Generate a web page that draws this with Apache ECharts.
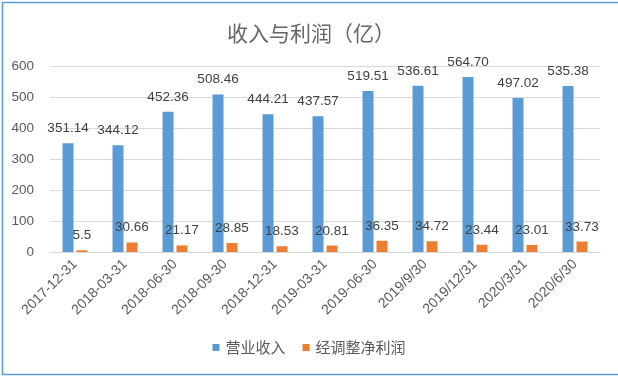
<!DOCTYPE html>
<html>
<head>
<meta charset="utf-8">
<script src="https://cdn.jsdelivr.net/npm/echarts@6/dist/echarts.min.js"></script>
<style>
  html, body { margin: 0; padding: 0; background: #fff; }
  #main { width: 618px; height: 376px; }
</style>
</head>
<body>
<div id="main"></div>
<script>
// 数据
const categories = ['2017-12-31', '2018-03-31', '2018-06-30', '2018-09-30', '2018-12-31', '2019-03-31',
  '2019-06-30', '2019/9/30', '2019/12/31', '2020/3/31', '2020/6/30'];
const revenue = [351.14, 344.12, 452.36, 508.46, 444.21, 437.57, 519.51, 536.61, 564.70, 497.02, 535.38];
const adjProfit = [5.5, 30.66, 21.17, 28.85, 18.53, 20.81, 36.35, 34.72, 23.44, 23.01, 33.73];
const yTicks = [0, 100, 200, 300, 400, 500, 600];

const font = "'Liberation Sans', 'Noto Sans CJK SC', sans-serif";
const cjkFont = "'Noto Sans CJK SC', sans-serif";

let chart = echarts.init(document.getElementById('main'));

chart.setOption({
  animation: false,
  backgroundColor: '#fff',
  title: {
    text: '收入与利润（亿）',
    left: 306,
    textAlign: 'center',
    top: 18,
    textStyle: {
      fontFamily: cjkFont,
      fontSize: 21,
      fontWeight: 'normal',
      color: '#666'
    }
  },
  legend: {
    data: ['营业收入', '经调整净利润'],
    bottom: 16,
    left: 'center',
    itemWidth: 7,
    itemHeight: 7,
    itemGap: 17,
    icon: 'rect',
    textStyle: {
      fontFamily: cjkFont,
      fontSize: 15,
      color: '#595959',
      padding: [0, 0, 0, 1]
    }
  },
  grid: {
    left: 50,
    right: 18,
    top: 66,
    bottom: 124
  },
  xAxis: {
    type: 'category',
    data: categories,
    axisLine: { lineStyle: { color: '#d9d9d9' } },
    axisTick: { show: false },
    axisLabel: {
      rotate: 45,
      interval: 0,
      margin: 10,
      fontFamily: font,
      fontSize: 14,
      color: '#595959'
    }
  },
  yAxis: {
    type: 'value',
    min: yTicks[0],
    max: yTicks[yTicks.length - 1],
    interval: 100,
    axisLine: { show: false },
    axisTick: { show: false },
    splitLine: { lineStyle: { color: '#d9d9d9' } },
    axisLabel: {
      margin: 16,
      fontFamily: font,
      fontSize: 13.5,
      color: '#595959'
    }
  },
  series: [
    {
      name: '营业收入',
      type: 'bar',
      data: revenue,
      barWidth: 11,
      barGap: '27%',
      itemStyle: { color: '#5b9bd5' },
      label: {
        show: true,
        position: 'top',
        distance: 8,
        fontFamily: font,
        fontSize: 13.5,
        color: '#404040',
        formatter: (p) => p.value.toFixed(2)
      }
    },
    {
      name: '经调整净利润',
      type: 'bar',
      data: adjProfit,
      barWidth: 11,
      itemStyle: { color: '#ed7d31' },
      label: {
        show: true,
        position: 'top',
        distance: 8,
        fontFamily: font,
        fontSize: 13.5,
        color: '#404040',
        formatter: (p) => String(p.value)
      }
    }
  ],
  graphic: [
    // 图表外框（左、上、下）
    {
      type: 'polyline',
      shape: { points: [[620, 2.5], [2.5, 2.5], [2.5, 374.5], [620, 374.5]] },
      style: { stroke: '#5b9bd5', lineWidth: 1.5, fill: null },
      silent: true
    }
  ]
});
</script>
</body>
</html>
